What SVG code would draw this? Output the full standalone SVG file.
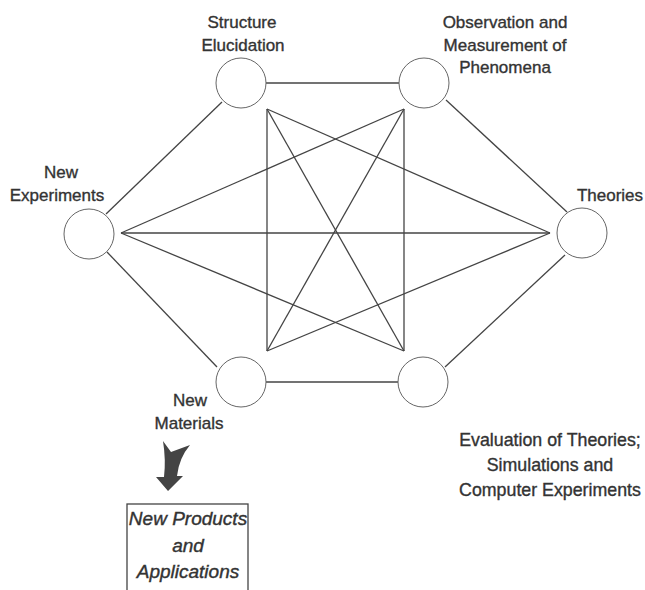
<svg xmlns="http://www.w3.org/2000/svg" width="645" height="590" viewBox="0 0 645 590">
<style>
.lbl{font-family:"Liberation Sans",Arial,sans-serif;font-size:17px;fill:#333;stroke:#333;stroke-width:0.35;text-anchor:middle}
.box{font-family:"Liberation Sans",Arial,sans-serif;font-size:19px;font-style:italic;fill:#333;stroke:#333;stroke-width:0.4;text-anchor:middle}
.node{fill:#fff;stroke:#666;stroke-width:1}
.ln{stroke:#444;stroke-width:1.3;fill:none}
</style>
<rect width="645" height="590" fill="#fff"/>
<g id="connectors">
<line class="ln" x1="266" y1="83" x2="399" y2="83"/>
<line class="ln" x1="266" y1="382" x2="398" y2="382"/>
<line class="ln" x1="106" y1="214" x2="222" y2="102"/>
<line class="ln" x1="107" y1="252" x2="217" y2="367"/>
<line class="ln" x1="446" y1="100" x2="567" y2="212"/>
<line class="ln" x1="565" y1="255" x2="445" y2="367"/>
<line class="ln" x1="267" y1="109" x2="267" y2="351"/>
<line class="ln" x1="404" y1="109" x2="404" y2="351"/>
<line class="ln" x1="121" y1="233" x2="550" y2="233"/>
<line class="ln" x1="267" y1="109" x2="550" y2="233"/>
<line class="ln" x1="267" y1="109" x2="404" y2="351"/>
<line class="ln" x1="404" y1="109" x2="121" y2="233"/>
<line class="ln" x1="404" y1="109" x2="267" y2="351"/>
<line class="ln" x1="121" y1="233" x2="404" y2="351"/>
<line class="ln" x1="267" y1="351" x2="550" y2="233"/>
</g>
<g id="structure">
<circle class="node" cx="241" cy="83" r="25"/>
<text class="lbl" x="242" y="28">Structure</text>
<text class="lbl" x="243" y="51">Elucidation</text>
</g>
<g id="observation">
<circle class="node" cx="424" cy="83" r="25"/>
<text class="lbl" x="505" y="28">Observation and</text>
<text class="lbl" x="505" y="51">Measurement of</text>
<text class="lbl" x="505" y="73">Phenomena</text>
</g>
<g id="experiments">
<circle class="node" cx="89" cy="234" r="25"/>
<text class="lbl" x="61" y="178">New</text>
<text class="lbl" x="57" y="201">Experiments</text>
</g>
<g id="theories">
<circle class="node" cx="582" cy="233" r="25"/>
<text class="lbl" x="610" y="201">Theories</text>
</g>
<g id="materials">
<circle class="node" cx="241" cy="382" r="25"/>
<text class="lbl" x="190" y="406">New</text>
<text class="lbl" x="189" y="429">Materials</text>
</g>
<g id="evaluation">
<circle class="node" cx="423" cy="382" r="25"/>
<text class="lbl" x="550" y="446" style="font-size:17.8px">Evaluation of Theories;</text>
<text class="lbl" x="550" y="471" style="font-size:17.8px">Simulations and</text>
<text class="lbl" x="550" y="496" style="font-size:17.8px">Computer Experiments</text>
</g>
<g id="arrow">
<path d="M163,441 L171,452 L190,445 Q179,458 177,476 L183,476 L168,491 L156,477 L164,477 Q166,460 163,441 Z" fill="#444"/>
</g>
<g id="products">
<rect x="127" y="504" width="121" height="100" fill="#fff" stroke="#444" stroke-width="1.3"/>
<text class="box" x="188" y="525">New Products</text>
<text class="box" x="188" y="552">and</text>
<text class="box" x="188" y="578">Applications</text>
</g>
</svg>
